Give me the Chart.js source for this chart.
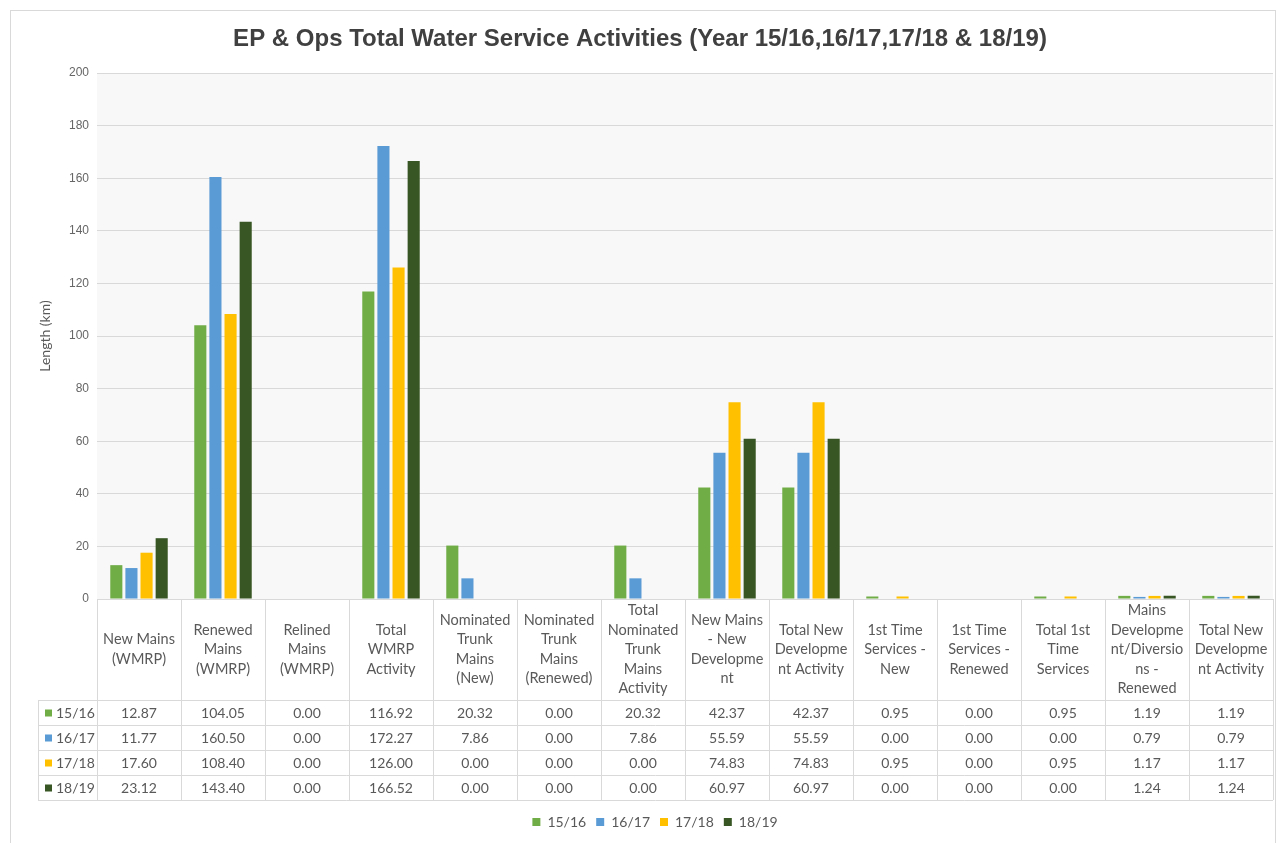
<!DOCTYPE html>
<html>
<head>
<meta charset="utf-8">
<script src="https://cdn.jsdelivr.net/npm/chart.js@4/dist/chart.umd.min.js"></script>
<style>
  html, body { margin: 0; padding: 0; background: #fff; }
  canvas { display: block; }
</style>
</head>
<body>
<canvas id="waterChart" width="1281" height="843"></canvas>
<script>
// categories (wrapped the same way the table header wraps them)
const categories = [
    ["New Mains", "(WMRP)"],
    ["Renewed", "Mains", "(WMRP)"],
    ["Relined", "Mains", "(WMRP)"],
    ["Total", "WMRP", "Activity"],
    ["Nominated", "Trunk", "Mains", "(New)"],
    ["Nominated", "Trunk", "Mains", "(Renewed)"],
    ["Total", "Nominated", "Trunk", "Mains", "Activity"],
    ["New Mains", "- New", "Developme", "nt"],
    ["Total New", "Developme", "nt Activity"],
    ["1st Time", "Services -", "New"],
    ["1st Time", "Services -", "Renewed"],
    ["Total 1st", "Time", "Services"],
    ["Mains", "Developme", "nt/Diversio", "ns -", "Renewed"],
    ["Total New", "Developme", "nt Activity"],
]

const seriesNames = ["15/16", "16/17", "17/18", "18/19"]
const seriesColors = ["#70ad47", "#5b9bd5", "#ffc000", "#375623"]

const values1516 = [12.87, 104.05, 0.00, 116.92, 20.32, 0.00, 20.32, 42.37, 42.37, 0.95, 0.00, 0.95, 1.19, 1.19]
const values1617 = [11.77, 160.50, 0.00, 172.27, 7.86, 0.00, 7.86, 55.59, 55.59, 0.00, 0.00, 0.00, 0.79, 0.79]
const values1718 = [17.60, 108.40, 0.00, 126.00, 0.00, 0.00, 0.00, 74.83, 74.83, 0.95, 0.00, 0.95, 1.17, 1.17]
const values1819 = [23.12, 143.40, 0.00, 166.52, 0.00, 0.00, 0.00, 60.97, 60.97, 0.00, 0.00, 0.00, 1.24, 1.24]

const yTicks = [0, 20, 40, 60, 80, 100, 120, 140, 160, 180, 200]

const seriesValues = [values1516, values1617, values1718, values1819]

const chartTitle = "EP & Ops Total Water Service Activities (Year 15/16,16/17,17/18 & 18/19)"

const TEXT = "#595959"
const LINE = "#d9d9d9"
const HEADER_H = 101
const ROW_H = 25
const ROW_LABEL_LEFT = 38

// data table under the bars, drawn off the x scale
const tablePlugin = {
    id: "dataTable",
    beforeDraw(chart) {
        const { ctx, chartArea } = chart
        ctx.save()
        ctx.fillStyle = "#ffffff"
        ctx.fillRect(0, 0, chart.width, chart.height)
        ctx.fillStyle = "#f8f8f8"
        ctx.fillRect(chartArea.left, chartArea.top, chartArea.right - chartArea.left, chartArea.bottom - chartArea.top)
        ctx.restore()
    },
    afterDraw(chart) {
        const { ctx, chartArea } = chart
        const xs = chart.scales.x
        const colW = (chartArea.right - chartArea.left) / categories.length
        const top = chartArea.bottom
        const rowsTop = top + HEADER_H
        const bottom = rowsTop + ROW_H * seriesNames.length

        ctx.save()
        // outer frame
        ctx.strokeStyle = LINE
        ctx.lineWidth = 1
        ctx.strokeRect(10.5, 10.5, 1265, 845)

        // title, centred on the whole frame (not the plot)
        ctx.fillStyle = "#404040"
        ctx.textAlign = "center"
        ctx.textBaseline = "middle"
        ctx.font = "bold 24px 'Liberation Sans'"
        ctx.fillText(chartTitle, 640, 39)

        // grid of the table
        ctx.beginPath()
        ctx.moveTo(chartArea.left, top + 0.5)
        ctx.lineTo(chartArea.right, top + 0.5)
        for (let r = 0; r <= seriesNames.length; r++) {
            const y = Math.round(rowsTop + r * ROW_H) + 0.5
            ctx.moveTo(ROW_LABEL_LEFT, y)
            ctx.lineTo(chartArea.right, y)
        }
        for (let i = 0; i <= categories.length; i++) {
            const x = Math.round(chartArea.left + i * colW) + 0.5
            ctx.moveTo(x, top)
            ctx.lineTo(x, bottom)
        }
        ctx.moveTo(ROW_LABEL_LEFT + 0.5, rowsTop)
        ctx.lineTo(ROW_LABEL_LEFT + 0.5, bottom)
        ctx.stroke()

        // header text
        ctx.fillStyle = TEXT
        ctx.font = "14.5px Lato"
        const lh = 19.5
        categories.forEach((lines, i) => {
            const cx = xs.getPixelForValue(i)
            const y0 = top + HEADER_H / 2 - (lines.length - 1) * lh / 2
            lines.forEach((t, k) => ctx.fillText(t, cx, y0 + k * lh))
        })

        // values
        seriesValues.forEach((vals, r) => {
            const cy = rowsTop + r * ROW_H + ROW_H / 2 + 1
            ctx.font = "14px Lato"
            ctx.textAlign = "center"
            vals.forEach((v, i) => ctx.fillText(v.toFixed(2), xs.getPixelForValue(i), cy))
            // row label with colour key
            ctx.fillStyle = seriesColors[r]
            ctx.fillRect(ROW_LABEL_LEFT + 7, cy - 4, 7, 7)
            ctx.fillStyle = TEXT
            ctx.textAlign = "left"
            ctx.fillText(seriesNames[r], ROW_LABEL_LEFT + 18, cy)
        })
        ctx.restore()
    },
}

const data = {
    labels: categories,
    datasets: seriesNames.map((name, i) => ({
        label: name,
        data: seriesValues[i],
        backgroundColor: seriesColors[i],
        categoryPercentage: 0.72,
        barPercentage: 0.8,
    })),
}

var ctx = document.getElementById("waterChart").getContext("2d")
const config = {
    type: "bar",
    data: data,
    plugins: [tablePlugin],
    options: {
        responsive: false,
        animation: false,
        devicePixelRatio: 1,
        layout: {
            padding: { left: 37, right: 8, top: 73, bottom: 4 },
        },
        plugins: {
            title: { display: false },
            legend: {
                position: "bottom",
                labels: {
                    boxWidth: 8,
                    boxHeight: 8,
                    padding: 10,
                    color: TEXT,
                    font: { family: "Lato", size: 14 },
                },
            },
            tooltip: { enabled: false },
        },
        scales: {
            x: {
                ticks: { display: false },
                grid: { display: false },
                border: { display: false },
                afterFit: (scale) => { scale.height = HEADER_H + ROW_H * seriesNames.length + 5 },
            },
            y: {
                min: 0,
                max: 200,
                afterBuildTicks: (scale) => { scale.ticks = yTicks.map((v) => ({ value: v })) },
                afterFit: (scale) => { scale.width = 60 },
                ticks: {
                    padding: 8,
                    color: "#666666",
                    font: { family: "Liberation Sans", size: 12 },
                },
                grid: { color: LINE, drawTicks: false },
                border: { display: false },
                title: {
                    display: true,
                    text: "Length (km)",
                    color: TEXT,
                    font: { family: "Lato", size: 14 },
                    padding: { top: 0, bottom: 0 },
                },
            },
        },
    },
}
var myChart = new Chart(ctx, config)
</script>
</body>
</html>
